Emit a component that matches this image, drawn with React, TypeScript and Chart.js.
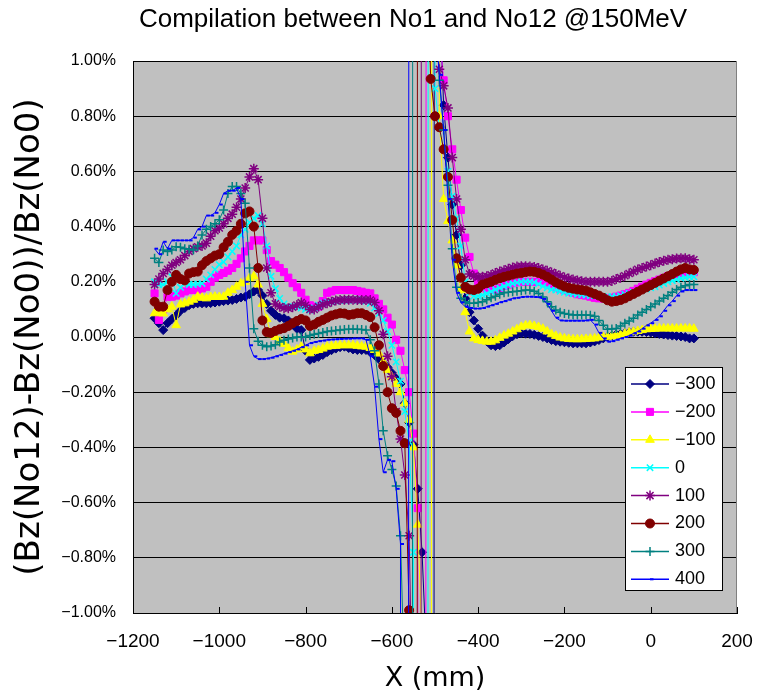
import { useEffect, useRef } from "react";
import { Chart, registerables } from "chart.js";
import { drawPoint } from "chart.js/helpers";

Chart.register(...registerables);

const FONT = "'Liberation Sans', Arial, sans-serif";
const WIDE_FONT = "'DejaVu Sans', 'Liberation Sans', sans-serif";

const TITLE = "Compilation between No1 and No12 @150MeV";
const X_TITLE = "X (mm)";
const Y_TITLE = "(Bz(No12)-Bz(No0))/Bz(No0)";

const X_TICKS = [-1200, -1000, -800, -600, -400, -200, 0, 200];
const Y_TICKS = [-1, -0.8, -0.6, -0.4, -0.2, 0, 0.2, 0.4, 0.6, 0.8, 1];

const X_MM = [
  -1150, -1140, -1130, -1120, -1110, -1100, -1090, -1080, -1070, -1060,
  -1050, -1040, -1030, -1020, -1010, -1000, -990, -980, -970, -960,
  -950, -940, -930, -920, -910, -900, -890, -880, -870, -860,
  -850, -840, -830, -820, -810, -800, -790, -780, -770, -760,
  -750, -740, -730, -720, -710, -700, -690, -680, -670, -660,
  -650, -640, -630, -620, -610, -600, -590, -580, -570, -560,
  -550, -540, -530, -520, -510, -500, -490, -480, -470, -460,
  -450, -440, -430, -420, -410, -400, -390, -380, -370, -360,
  -350, -340, -330, -320, -310, -300, -290, -280, -270, -260,
  -250, -240, -230, -220, -210, -200, -190, -180, -170, -160,
  -150, -140, -130, -120, -110, -100, -90, -80, -70, -60,
  -50, -40, -30, -20, -10, 0, 10, 20, 30, 40,
  50, 60, 70, 80, 90, 100,
];

// values in percent
const S_M300 = [
  0.068, 0.05, 0.025, 0.05, 0.065, 0.078, 0.095, 0.105, 0.115, 0.12,
  0.122, 0.122, 0.122, 0.123, 0.125, 0.128, 0.13, 0.132, 0.134, 0.138,
  0.143, 0.146, 0.155, 0.165, 0.17, 0.15, 0.12, 0.095, 0.08, 0.07,
  0.068, 0.06, 0.045, 0.03, 0.025, -0.05, -0.083, -0.078, -0.072, -0.065,
  -0.055, -0.048, -0.042, -0.037, -0.035, -0.04, -0.045, -0.047, -0.047, -0.047,
  -0.055, -0.065, -0.08, -0.095, -0.11, -0.13, -0.15, -0.17, -0.24, -0.31,
  -0.39, -0.55, -0.78, -1.15, -40, 10, 1.25, 0.84, 0.65, 0.48,
  0.37, 0.26, 0.14, 0.09, 0.06, 0.03, 0.005, -0.015, -0.03, -0.033,
  -0.03, -0.02, -0.008, 0.003, 0.01, 0.013, 0.012, 0.011, 0.008, 0.004,
  0.0, -0.005, -0.011, -0.015, -0.017, -0.019, -0.021, -0.023, -0.023, -0.023,
  -0.023, -0.02, -0.016, -0.011, -0.005, 0.001, 0.005, 0.009, 0.011, 0.014,
  0.017, 0.019, 0.019, 0.019, 0.018, 0.016, 0.013, 0.011, 0.009, 0.007,
  0.005, 0.004, 0.002, 0.0, -0.005, -0.005,
];

const S_M200 = [
  0.158, 0.062, 0.1, 0.146, 0.146, 0.15, 0.158, 0.165, 0.17, 0.17,
  0.172, 0.176, 0.182, 0.2, 0.215, 0.225, 0.232, 0.24, 0.25, 0.265,
  0.285, 0.31, 0.33, 0.35, 0.35, 0.35, 0.315, 0.275, 0.262, 0.25,
  0.235, 0.215, 0.195, 0.18, 0.16, 0.135, 0.115, 0.11, 0.11, 0.13,
  0.16, 0.165, 0.17, 0.17, 0.17, 0.17, 0.17, 0.167, 0.164, 0.16,
  0.158, 0.14, 0.12, 0.1, 0.07, 0.045, -0.01, -0.05, -0.12, -0.2,
  -0.35, -0.62, -30, 3.3, 2, 1.5, 1.1, 0.93, 0.8, 0.68,
  0.57, 0.46, 0.36, 0.29, 0.23, 0.2, 0.18, 0.175, 0.172, 0.172,
  0.178, 0.185, 0.19, 0.195, 0.198, 0.2, 0.2, 0.2, 0.2, 0.2,
  0.2, 0.195, 0.188, 0.18, 0.175, 0.17, 0.165, 0.16, 0.155, 0.152,
  0.15, 0.146, 0.142, 0.14, 0.14, 0.14, 0.142, 0.146, 0.15, 0.155,
  0.16, 0.167, 0.175, 0.182, 0.19, 0.196, 0.202, 0.208, 0.214, 0.22,
  0.224, 0.228, 0.232, 0.235, 0.235, 0.235,
];

const S_M100 = [
  0.086, 0.09, 0.085, 0.1, 0.11, 0.043, 0.118, 0.122, 0.128, 0.135,
  0.146, 0.142, 0.14, 0.145, 0.146, 0.145, 0.146, 0.16, 0.17, 0.182,
  0.194, 0.2, 0.213, 0.22, 0.19, 0.12, 0.065, 0.01, 0.0, -0.015,
  -0.025, -0.04, -0.053, -0.045, -0.035, -0.045, -0.059, -0.05, -0.047, -0.042,
  -0.035, -0.033, -0.032, -0.03, -0.03, -0.03, -0.03, -0.032, -0.034, -0.035,
  -0.04, -0.047, -0.06, -0.09, -0.12, -0.145, -0.17, -0.2, -0.24, -0.3,
  -0.4, -0.68, -1.1, -30, -10, 40, 0.8, 0.5, 0.42, 0.35,
  0.26, 0.17, 0.09, 0.02, -0.005, -0.011, -0.014, -0.017, -0.017, -0.012,
  -0.003, 0.005, 0.012, 0.02, 0.028, 0.037, 0.042, 0.043, 0.04, 0.036,
  0.03, 0.02, 0.01, 0.004, -0.002, -0.005, -0.007, -0.008, -0.008, -0.008,
  -0.007, -0.006, -0.005, -0.002, 0.0, 0.001, 0.003, 0.005, 0.007, 0.012,
  0.016, 0.019, 0.022, 0.025, 0.028, 0.029, 0.03, 0.031, 0.031, 0.031,
  0.031, 0.031, 0.031, 0.031, 0.031, 0.03,
];

const S_0 = [
  0.2, 0.19, 0.19, 0.2, 0.218, 0.158, 0.18, 0.194, 0.19, 0.19,
  0.192, 0.194, 0.21, 0.225, 0.245, 0.262, 0.272, 0.29, 0.31, 0.33,
  0.37, 0.39, 0.415, 0.43, 0.44, 0.41, 0.33, 0.22, 0.175, 0.14,
  0.12, 0.11, 0.11, 0.11, 0.105, 0.1, 0.098, 0.105, 0.115, 0.122,
  0.126, 0.128, 0.13, 0.132, 0.134, 0.134, 0.134, 0.134, 0.134, 0.13,
  0.122, 0.105, 0.085, 0.06, 0.02, -0.03, -0.09, -0.16, -0.27, -0.38,
  -0.78, -25, -25, -20, 30, 0.9, 0.76, 0.68, 0.6, 0.51,
  0.43, 0.33, 0.2, 0.16, 0.148, 0.148, 0.152, 0.158, 0.165, 0.172,
  0.178, 0.184, 0.19, 0.194, 0.197, 0.2, 0.2, 0.2, 0.198, 0.192,
  0.184, 0.178, 0.172, 0.17, 0.166, 0.162, 0.158, 0.157, 0.155, 0.153,
  0.152, 0.15, 0.149, 0.148, 0.147, 0.146, 0.146, 0.146, 0.15, 0.155,
  0.158, 0.162, 0.166, 0.17, 0.174, 0.178, 0.182, 0.188, 0.194, 0.2,
  0.204, 0.208, 0.213, 0.215, 0.218, 0.218,
];

const S_100 = [
  0.19, 0.21, 0.23, 0.245, 0.26, 0.27, 0.28, 0.295, 0.31, 0.32,
  0.327, 0.33, 0.34, 0.365, 0.385, 0.395, 0.41, 0.43, 0.445, 0.47,
  0.5, 0.54, 0.58, 0.61, 0.57, 0.43, 0.25, 0.16, 0.12, 0.11,
  0.105, 0.104, 0.108, 0.116, 0.125, 0.115, 0.1, 0.1, 0.11, 0.118,
  0.122, 0.128, 0.132, 0.134, 0.135, 0.135, 0.135, 0.134, 0.134, 0.134,
  0.134, 0.125, 0.095, 0.01, -0.07, -0.144, -0.27, -0.37, -0.5, -0.72,
  -1.5, -40, 10, 5, 2, 1.2, 0.97, 0.91, 0.83, 0.65,
  0.5, 0.39, 0.28, 0.228, 0.22, 0.218, 0.218, 0.22, 0.225, 0.232,
  0.237, 0.242, 0.247, 0.252, 0.255, 0.256, 0.256, 0.255, 0.254, 0.25,
  0.245, 0.24, 0.234, 0.228, 0.222, 0.216, 0.212, 0.208, 0.205, 0.202,
  0.2, 0.2, 0.2, 0.2, 0.2, 0.2, 0.203, 0.21, 0.215, 0.222,
  0.23, 0.237, 0.245, 0.25, 0.255, 0.26, 0.266, 0.272, 0.276, 0.28,
  0.282, 0.284, 0.285, 0.285, 0.282, 0.28,
];

const S_200 = [
  0.128, 0.11, 0.11, 0.17, 0.2, 0.225, 0.21, 0.205, 0.23, 0.235,
  0.237, 0.26, 0.275, 0.285, 0.295, 0.3, 0.325, 0.345, 0.37, 0.385,
  0.41, 0.448, 0.455, 0.4, 0.25, 0.06, 0.018, 0.015, 0.022, 0.028,
  0.032, 0.04, 0.05, 0.058, 0.065, 0.06, 0.04, 0.045, 0.055, 0.062,
  0.07, 0.078, 0.082, 0.086, 0.085, 0.08, 0.082, 0.086, 0.086, 0.08,
  0.072, 0.035, -0.03, -0.105, -0.2, -0.258, -0.275, -0.34, -0.385, -0.99,
  -45, 5, 3, 1.5, 0.935, 0.8, 0.76, 0.68, 0.58, 0.424,
  0.285, 0.215, 0.182, 0.172, 0.17, 0.175, 0.19, 0.195, 0.2, 0.207,
  0.213, 0.218, 0.222, 0.226, 0.23, 0.232, 0.235, 0.237, 0.236, 0.232,
  0.226, 0.218, 0.208, 0.198, 0.19, 0.183, 0.178, 0.175, 0.172, 0.17,
  0.168, 0.162, 0.156, 0.15, 0.142, 0.133, 0.128, 0.13, 0.134, 0.14,
  0.148, 0.156, 0.164, 0.172, 0.18, 0.188, 0.196, 0.204, 0.212, 0.22,
  0.228, 0.237, 0.245, 0.25, 0.245, 0.243,
];

const S_300 = [
  0.285, 0.27, 0.315, 0.31, 0.315, 0.327, 0.325, 0.32, 0.318, 0.315,
  0.33, 0.37, 0.39, 0.4, 0.41, 0.425, 0.46, 0.52, 0.545, 0.545,
  0.52, 0.485, 0.25, 0.03, -0.015, -0.03, -0.035, -0.033, -0.028, -0.018,
  -0.012, -0.007, -0.004, 0.0, 0.0, 0.0, 0.005, 0.01, 0.013, 0.016,
  0.02, 0.022, 0.024, 0.025, 0.027, 0.028, 0.028, 0.028, 0.027, 0.025,
  -0.01, -0.05, -0.17, -0.34, -0.43, -0.48, -0.54, -0.72, -1.3, -40,
  10, 6, 4, 3, 2, 1.3, 0.93, 0.75, 0.55, 0.32,
  0.18, 0.14, 0.128, 0.122, 0.122, 0.125, 0.128, 0.135, 0.142, 0.148,
  0.155, 0.16, 0.162, 0.164, 0.166, 0.168, 0.17, 0.17, 0.166, 0.158,
  0.145, 0.128, 0.11, 0.098, 0.09, 0.085, 0.082, 0.08, 0.08, 0.08,
  0.08, 0.079, 0.075, 0.06, 0.043, 0.028, 0.029, 0.031, 0.04, 0.05,
  0.058, 0.068, 0.08, 0.09, 0.1, 0.11, 0.12, 0.13, 0.14, 0.15,
  0.162, 0.172, 0.18, 0.186, 0.19, 0.19,
];

const S_400 = [
  0.32, 0.3, 0.345, 0.32, 0.35, 0.35, 0.35, 0.35, 0.35, 0.36,
  0.39, 0.4, 0.44, 0.44, 0.45, 0.48, 0.52, 0.53, 0.53, 0.54,
  0.5, 0.2, -0.03, -0.07, -0.08, -0.08, -0.078, -0.075, -0.07, -0.065,
  -0.06, -0.055, -0.05, -0.045, -0.037, -0.03, -0.022, -0.018, -0.015, -0.013,
  -0.01, -0.009, -0.008, -0.007, -0.006, -0.006, -0.005, -0.005, -0.005, -0.01,
  -0.07, -0.18, -0.37, -0.49, -0.445, -0.45, -0.55, -0.75, -45, 5,
  4, 3, 2.5, 2, 1.6, 1.15, 0.95, 0.75, 0.5, 0.28,
  0.16, 0.125, 0.11, 0.105, 0.103, 0.103, 0.105, 0.11, 0.115, 0.12,
  0.126, 0.13, 0.135, 0.14, 0.142, 0.145, 0.146, 0.146, 0.145, 0.144,
  0.138, 0.12, 0.095, 0.07, 0.06, 0.059, 0.059, 0.059, 0.059, 0.059,
  0.06, 0.062, 0.045, 0.015, -0.005, -0.017, -0.015, -0.01, -0.005, 0.0,
  0.005, 0.013, 0.02, 0.03, 0.042, 0.05, 0.062, 0.075, 0.095, 0.115,
  0.13, 0.15, 0.165, 0.17, 0.17, 0.17,
];

const SERIES_NAMES = ["\u2212300", "\u2212200", "\u2212100", "0", "100", "200", "300", "400"];
const SERIES_VALUES = [S_M300, S_M200, S_M100, S_0, S_100, S_200, S_300, S_400];

// styles
const SERIES_COLORS = ["#000080", "#FF00FF", "#FFFF00", "#00FFFF", "#800080", "#800000", "#008080", "#0000FF"];
const SERIES_POINTS = ["rectRot", "rect", "triangle", "crossRot", "star", "circle", "cross", "dash"];
const SERIES_RADII = [4.5, 5, 5, 4.5, 5, 4.5, 4.5, 3.5];
const SERIES_PBW = [1, 1, 1, 1.5, 1.5, 1, 1.5, 2];

const fmtX = (v: number) => (v < 0 ? "\u2212" + Math.abs(v) : String(v));
const fmtY = (v: number) => (v < -1e-9 ? "\u2212" : "") + Math.abs(v).toFixed(2) + "%";

const decor = {
  id: "decor",
  beforeDraw(chart: any) {
    const { ctx, chartArea: a } = chart;
    ctx.save();
    ctx.fillStyle = "#ffffff";
    ctx.fillRect(0, 0, chart.width, chart.height);
    ctx.fillStyle = "#c0c0c0";
    ctx.fillRect(a.left, a.top, a.right - a.left, a.bottom - a.top);
    ctx.restore();
  },
  afterDraw(chart: any) {
    const { ctx, chartArea: a, scales } = chart;
    ctx.save();
    // inner x tick marks
    ctx.strokeStyle = "#000";
    ctx.lineWidth = 1;
    ctx.beginPath();
    for (const v of X_TICKS) {
      const px = Math.round(scales.x.getPixelForValue(v)) + 0.5;
      ctx.moveTo(px, a.bottom);
      ctx.lineTo(px, a.bottom - 6);
    }
    ctx.stroke();
    // right border of plot
    ctx.strokeStyle = "#808080";
    ctx.beginPath();
    ctx.moveTo(Math.round(a.right) - 0.5, a.top);
    ctx.lineTo(Math.round(a.right) - 0.5, a.bottom);
    ctx.stroke();

    // chart title
    ctx.fillStyle = "#000";
    ctx.font = `26px ${FONT}`;
    ctx.textAlign = "center";
    ctx.textBaseline = "middle";
    ctx.fillText(TITLE, 413, 20);

    // legend
    const lx = 625, ly = 367, lw = 97, lh = 223;
    ctx.fillStyle = "#fff";
    ctx.fillRect(lx, ly, lw, lh);
    ctx.strokeStyle = "#000";
    ctx.lineWidth = 1;
    ctx.strokeRect(lx + 0.5, ly + 0.5, lw, lh);
    SERIES_NAMES.forEach((name, i) => {
      const y = 384 + i * 27.9;
      const c = SERIES_COLORS[i];
      ctx.strokeStyle = c;
      ctx.lineWidth = 1.5;
      ctx.beginPath();
      ctx.moveTo(631, y);
      ctx.lineTo(669, y);
      ctx.stroke();
      ctx.fillStyle = c;
      ctx.lineWidth = SERIES_PBW[i];
      drawPoint(ctx, { pointStyle: SERIES_POINTS[i] as any, radius: SERIES_RADII[i], rotation: 0, borderWidth: SERIES_PBW[i] } as any, 650, y);
      ctx.fillStyle = "#000";
      ctx.font = `18px ${FONT}`;
      ctx.textAlign = "left";
      ctx.textBaseline = "middle";
      ctx.fillText(name, 675, y);
    });
    ctx.restore();
  },
};

export default function App() {
  const ref = useRef<HTMLCanvasElement>(null);

  useEffect(() => {
    const canvas = ref.current;
    if (!canvas) return;
    const datasets = SERIES_NAMES.map((name, i) => ({
      label: name,
      data: X_MM.map((x, j) => ({ x, y: SERIES_VALUES[i][j] })),
      borderColor: SERIES_COLORS[i],
      backgroundColor: SERIES_COLORS[i],
      borderWidth: 1,
      pointStyle: SERIES_POINTS[i],
      pointRadius: SERIES_RADII[i],
      pointBorderWidth: SERIES_PBW[i],
      pointBackgroundColor: SERIES_COLORS[i],
      pointBorderColor: SERIES_COLORS[i],
      tension: 0,
      order: SERIES_NAMES.length - i,
    }));

    const chart = new Chart(canvas, {
      type: "line",
      data: { datasets } as any,
      options: {
        responsive: false,
        animation: false,
        devicePixelRatio: 1,
        events: [],
        layout: { padding: { left: 0, top: 61, right: 21, bottom: 0 } },
        plugins: {
          legend: { display: false },
          tooltip: { enabled: false },
          title: { display: false },
        },
        scales: {
          x: {
            type: "linear",
            min: -1200,
            max: 200,
            afterBuildTicks: (scale: any) => {
              scale.ticks = X_TICKS.map((value) => ({ value }));
            },
            afterFit: (scale: any) => {
              scale.height = 79;
              scale.paddingLeft = 0;
              scale.paddingRight = 0;
            },
            ticks: {
              callback: (v: any) => fmtX(Number(v)),
              font: { family: FONT, size: 19 },
              color: "#000",
              padding: 17,
              maxRotation: 0,
              autoSkip: false,
            },
            grid: { display: false, drawTicks: false },
            border: { display: true, color: "#000", width: 1 },
            title: {
              display: true,
              text: X_TITLE,
              font: { family: WIDE_FONT, size: 27 },
              color: "#000",
              padding: { top: 0, bottom: -3 },
            },
          },
          y: {
            type: "linear",
            min: -1,
            max: 1,
            afterBuildTicks: (scale: any) => {
              scale.ticks = Y_TICKS.map((value) => ({ value }));
            },
            afterFit: (scale: any) => {
              scale.width = 133;
              scale.paddingTop = 0;
              scale.paddingBottom = 0;
            },
            ticks: {
              callback: (v: any) => fmtY(Number(v)),
              font: { family: FONT, size: 16 },
              color: "#000",
              padding: 17,
              autoSkip: false,
            },
            grid: { color: "#000", lineWidth: 1, drawTicks: false },
            border: { display: true, color: "#000", width: 1 },
            title: {
              display: true,
              text: Y_TITLE,
              font: { family: WIDE_FONT, size: 34 },
              color: "#000",
              padding: { top: 10, bottom: 0 },
            },
          },
        },
      },
      plugins: [decor],
    } as any);

    return () => chart.destroy();
  }, []);

  return (
    <div style={{ position: "absolute", left: 0, top: 0, width: 758, height: 692 }}>
      <canvas ref={ref} width={758} height={692} style={{ display: "block" }} />
    </div>
  );
}
